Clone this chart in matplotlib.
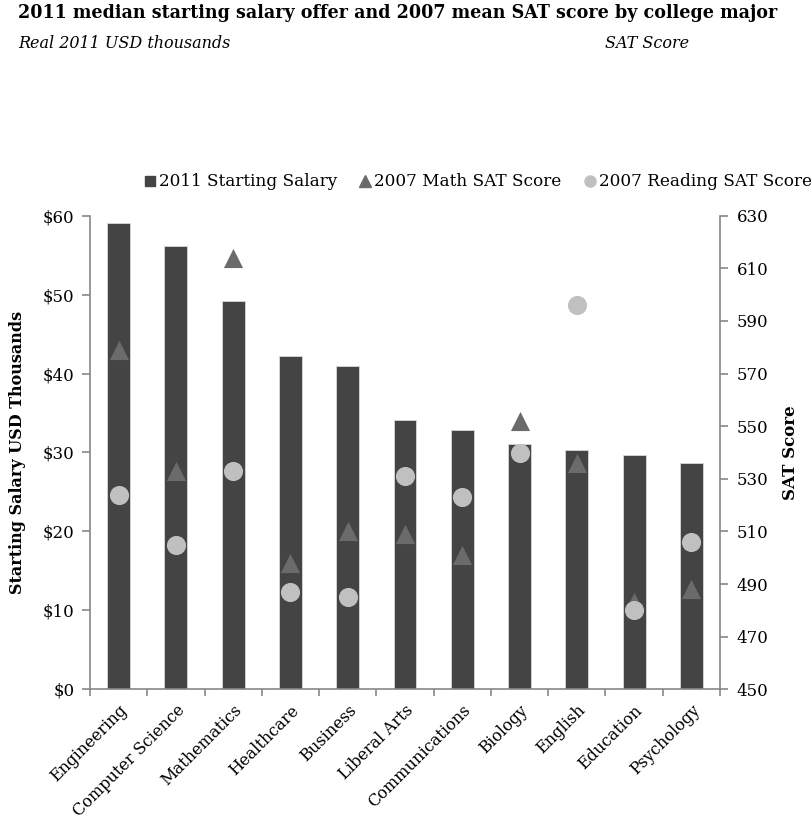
import matplotlib
matplotlib.use("Agg")
import matplotlib.pyplot as plt
import numpy as np
from matplotlib.lines import Line2D

categories = ["Engineering", "Computer Science", "Mathematics", "Healthcare", "Business",
              "Liberal Arts", "Communications", "Biology", "English", "Education", "Psychology"]
salary = [59.1, 56.2, 49.2, 42.2, 40.9, 34.1, 32.9, 31.1, 30.3, 29.7, 28.7]
math_sat = [579, 533, 614, 498, 510, 509, 501, 552, 536, 483, 488]
reading_sat = [524, 505, 533, 487, 485, 531, 523, 540, 596, 480, 506]
left_ticks = [0, 10, 20, 30, 40, 50, 60]
right_ticks = [450, 470, 490, 510, 530, 550, 570, 590, 610, 630]

FONT = "DejaVu Serif"
plt.rcParams['font.family'] = [FONT]
BAR = "#444444"
TRI = "#6b6b6b"
CIR = "#c0c0c0"
SPINE = "#888888"

W, H = 812, 823
fig = plt.figure(figsize=(W/100, H/100), dpi=100)
ax = fig.add_axes([90/W, (H-689.3)/H, (720-90)/W, (689.3-215.7)/H])
x = np.arange(len(categories))
ax.bar(x, salary, width=0.4, color=BAR, edgecolor="#d9d9d9", linewidth=0.6, zorder=1)
ax.set_xlim(-0.5, len(categories) - 0.5)
ax.set_ylim(0, 60)
ax.set_yticks(left_ticks)
ax.set_yticklabels([f"${v}" for v in left_ticks])
ax.set_xticks(x)
ax.set_xticklabels(categories, rotation=45, ha="right", rotation_mode="anchor")
ax.set_xticks(np.arange(len(categories) + 1) - 0.5, minor=True)
ax.tick_params(axis="x", which="major", length=0, pad=9, labelsize=11.6)
ax.tick_params(axis="x", which="minor", length=5, color=SPINE, width=1.2)
ax.tick_params(axis="y", length=6, color=SPINE, width=1.2, labelsize=12, pad=5)
for s in ["top", "right"]:
    ax.spines[s].set_visible(False)
for s in ["left", "bottom"]:
    ax.spines[s].set_color(SPINE)
    ax.spines[s].set_linewidth(1.2)
ax.set_ylabel("Starting Salary USD Thousands", fontsize=11.5, fontweight="bold")
ax.yaxis.set_label_coords((26-90)/630, 0.5)

ax2 = ax.twinx()
ax2.set_ylim(450, 630)
ax2.set_yticks(right_ticks)
ax2.scatter(x, math_sat, marker="^", s=190, color=TRI, zorder=3, linewidths=0)
ax2.scatter(x, reading_sat, marker="o", s=190, color=CIR, zorder=4, linewidths=0)
for s in ["top", "left", "bottom"]:
    ax2.spines[s].set_visible(False)
ax2.spines["right"].set_color(SPINE)
ax2.spines["right"].set_linewidth(1.2)
ax2.tick_params(axis="y", length=6, color=SPINE, width=1.2, labelsize=12, pad=6)
ax2.set_ylabel("SAT Score", fontsize=12, fontweight="bold")
ax2.yaxis.set_label_coords((782-90)/630, 0.5)

fig.text(18/W, 1 - 13/H, "2011 median starting salary offer and 2007 mean SAT score by college major",
         fontsize=12.65, fontweight="bold", va="center", ha="left")
fig.text(18/W, 1 - 43/H, "Real 2011 USD thousands", fontsize=11.5, style="italic", va="center", ha="left")
fig.text(605/W, 1 - 43/H, "SAT Score", fontsize=11.5, style="italic", va="center", ha="left")

handles = [
    Line2D([], [], marker="s", linestyle="none", color=BAR, markersize=7),
    Line2D([], [], marker="^", linestyle="none", color=TRI, markersize=8),
    Line2D([], [], marker="o", linestyle="none", color=CIR, markersize=8),
]
labels = ["2011 Starting Salary", "2007 Math SAT Score", "2007 Reading SAT Score"]
fig.legend(handles, labels, loc="center right", bbox_to_anchor=(1.0, 1 - 182/H), ncol=3,
           frameon=False, fontsize=12.2, handletextpad=0.1, columnspacing=1.2, handlelength=0.9,
           borderaxespad=0.0, borderpad=0.0)

fig.savefig("out.png", dpi=100)
